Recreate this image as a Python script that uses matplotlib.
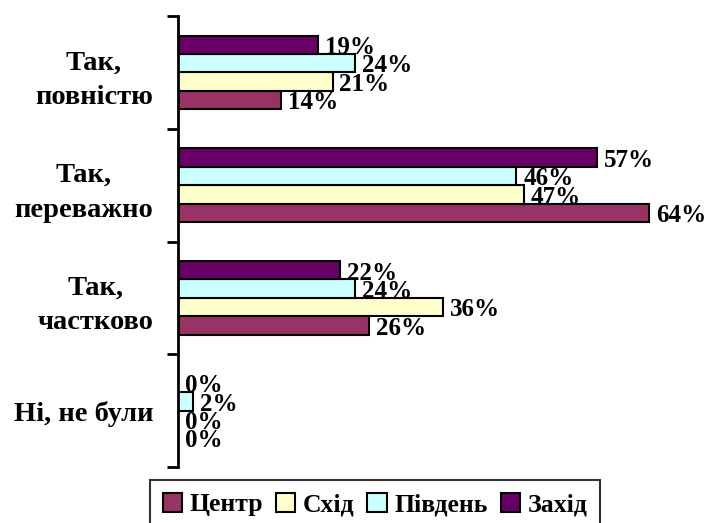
import matplotlib
matplotlib.use("Agg")
import matplotlib.pyplot as plt
from matplotlib.patches import Patch
import numpy as np

categories = ["Так,\nповністю", "Так,\nпереважно", "Так,\nчастково", "Ні, не були"]
series_names = ["Центр", "Схід", "Південь", "Захід"]
centr = [14, 64, 26, 0]
skhid = [21, 47, 36, 0]
pivden = [24, 46, 24, 2]
zakhid = [19, 57, 22, 0]
colors = ["#993366", "#FFFFCC", "#CCFFFF", "#660066"]

plt.rcParams['font.family'] = ['Liberation Serif', 'DejaVu Serif']
plt.rcParams['font.weight'] = 'bold'

fig = plt.figure(figsize=(7.11, 5.23), dpi=100)
ax = fig.add_axes([178/711, 1-467/523, 515/711, (467-16)/523])

h = 0.163
y = np.arange(len(categories))
offsets = [1.5*h, 0.5*h, -0.5*h, -1.5*h]
for vals, off, col in zip([centr, skhid, pivden, zakhid], offsets, colors):
    bars = ax.barh(y + off, vals, height=h, color=col, edgecolor='black', linewidth=1.5)
    for b, v in zip(bars, vals):
        ax.annotate(f"{v}%", (b.get_width(), b.get_y() + b.get_height()/2),
                    xytext=(5, -2), textcoords='offset points',
                    ha='left', va='center', fontsize=18, fontweight='bold')

ax.set_xlim(0, 70)
ax.set_ylim(len(categories) - 0.5, -0.5)
ax.set_yticks(y)
ax.set_yticklabels(categories, fontsize=20.5, fontweight='bold',
                   multialignment='center', linespacing=1.5)
ax.set_yticks(np.arange(-0.5, len(categories), 1.0), minor=True)
ax.tick_params(axis='y', which='major', length=0, pad=18)
ax.tick_params(axis='y', which='minor', length=8, width=2, direction='out')
ax.set_xticks([])
for s in ['top', 'right', 'bottom']:
    ax.spines[s].set_visible(False)
ax.spines['left'].set_linewidth(2)

handles = [Patch(facecolor=c, edgecolor='black', linewidth=1.5) for c in colors]
leg = fig.legend(handles, series_names, loc='upper center',
                 bbox_to_anchor=(375/711, 1-480/523), ncol=4,
                 prop={'family': 'Liberation Serif', 'weight': 'bold', 'size': 18.5},
                 frameon=True, fancybox=False, edgecolor='black',
                 handlelength=0.75, handleheight=0.75, handletextpad=0.3,
                 columnspacing=0.5, borderpad=0.5, borderaxespad=0)
leg.get_frame().set_linewidth(1.5)

fig.savefig("out.png", dpi=100)
